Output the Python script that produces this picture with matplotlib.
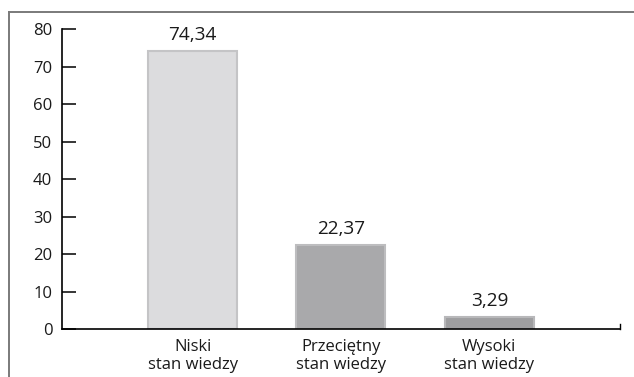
import matplotlib
matplotlib.use("Agg")
import matplotlib.pyplot as plt
from matplotlib.lines import Line2D

categories = ["Niski\nstan wiedzy", "Przeciętny\nstan wiedzy", "Wysoki\nstan wiedzy"]
values = [74.34, 22.37, 3.29]
value_labels = ["74,34", "22,37", "3,29"]
y_ticks = [0, 10, 20, 30, 40, 50, 60, 70, 80]

bar_colors = ["#dcdcde", "#a9a9ab", "#9e9ea0"]
edge_colors = ["#c4c4c6", "#bdbdbf", "#b8b8ba"]

plt.rcParams["font.family"] = ["Open Sans", "DejaVu Sans"]

fig = plt.figure(figsize=(6.34, 3.77), dpi=100)
ax = fig.add_axes([0.0978, 0.1273, 0.880, 0.7945])

x = list(range(len(categories)))
ax.bar(x, values, width=0.6, color=bar_colors, edgecolor=edge_colors, linewidth=1.5, zorder=2)

for xi, v, lab in zip(x, values, value_labels):
    ax.annotate(lab, (xi, v), xytext=(0, 5), textcoords="offset points",
                ha="center", va="bottom", fontsize=13.7, color="#1a1a1a")

ax.set_xlim(-0.88, 2.88)
ax.set_ylim(0, 80)
ax.set_yticks(y_ticks)
ax.set_xticks(x)
ax.set_xticklabels(categories, fontsize=12, color="#1a1a1a", linespacing=1.2)
ax.tick_params(axis="x", length=0, pad=7)
ax.tick_params(axis="y", direction="in", length=10, width=1.1, pad=7,
               labelsize=12, labelcolor="#1a1a1a")

ax.spines["top"].set_visible(False)
ax.spines["left"].set_linewidth(1.2)
ax.spines["bottom"].set_linewidth(1.2)
ax.spines["bottom"].set_zorder(3)
ax.spines["right"].set_linewidth(1.0)
ax.spines["right"].set_bounds(0, 1.3)

# frame around the figure (top and left edges visible)
fig.add_artist(Line2D([9 / 634, 1.0], [1 - 12 / 377, 1 - 12 / 377],
                      transform=fig.transFigure, color="#7a7a7a", linewidth=1.4))
fig.add_artist(Line2D([9 / 634, 9 / 634], [0, 1 - 12 / 377],
                      transform=fig.transFigure, color="#7a7a7a", linewidth=1.4))

fig.savefig("out.png", dpi=100)
